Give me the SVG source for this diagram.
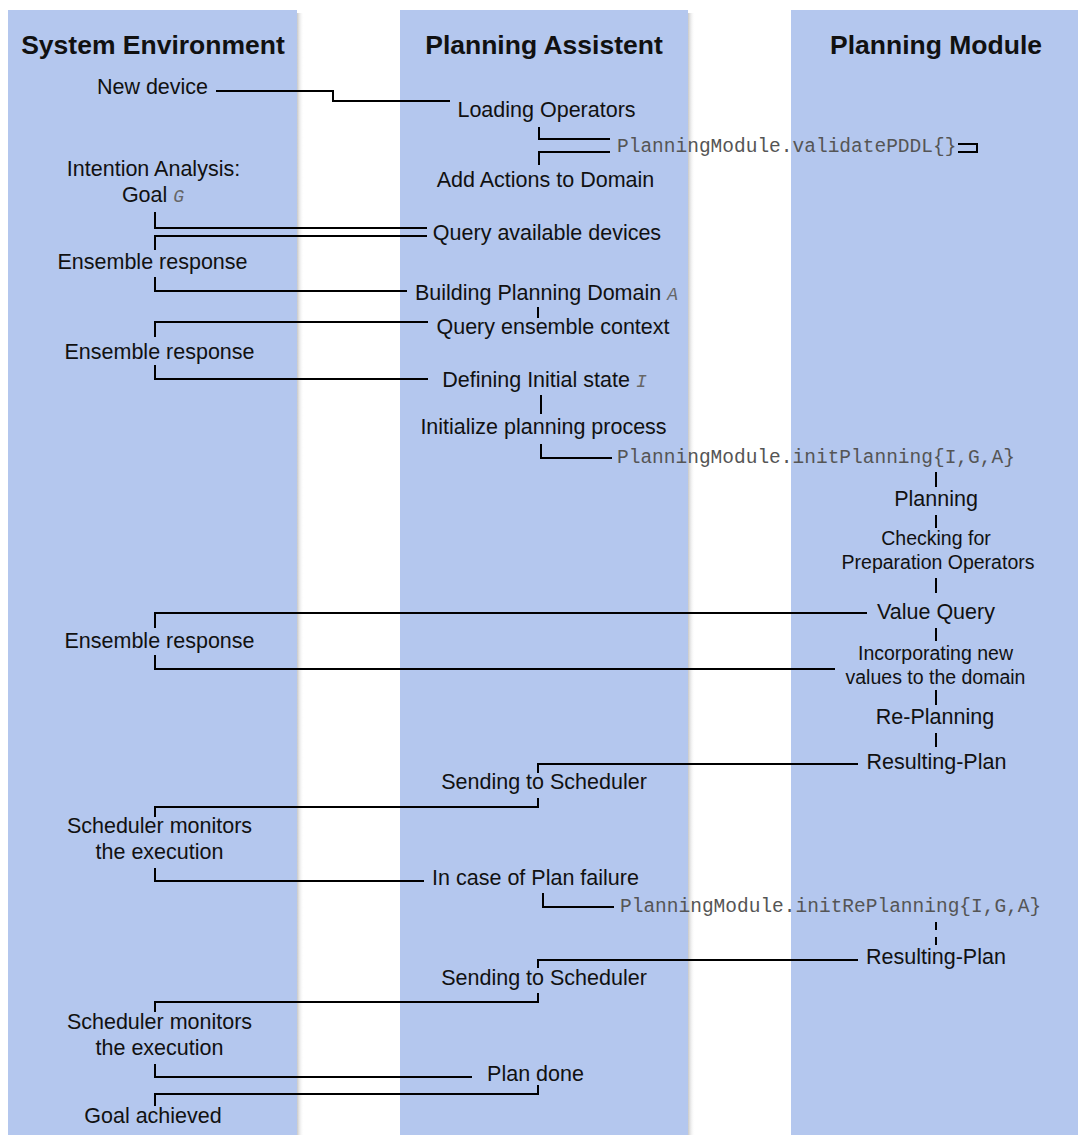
<svg xmlns="http://www.w3.org/2000/svg" width="1078" height="1135" viewBox="0 0 1078 1135">
  <defs>
    <linearGradient id="laneShadow" x1="0" y1="0" x2="1" y2="0">
      <stop offset="0" stop-color="#c8c8c8"/>
      <stop offset="1" stop-color="#ffffff" stop-opacity="0"/>
    </linearGradient>
    <style>
      .lane { fill: #b4c7ee; }
      .title { font-family: "Liberation Sans", Arial, sans-serif; font-weight: bold; font-size: 26.5px; fill: #111; text-anchor: middle; }
      .lbl { font-family: "Liberation Sans", Arial, sans-serif; font-size: 21.5px; fill: #111; text-anchor: middle; }
      .sm { font-family: "Liberation Sans", Arial, sans-serif; font-size: 19.5px; fill: #111; text-anchor: middle; }
      .code { font-family: "Liberation Mono", "Courier New", monospace; font-size: 19.5px; fill: #555; }
      .var { font-family: "Liberation Mono", "Courier New", monospace; font-style: italic; font-size: 18px; fill: #666; }
      .wire { fill: none; stroke: #000; stroke-width: 2; }
      .dash { fill: none; stroke: #000; stroke-width: 2; stroke-dasharray: 8 7; }
    </style>
  </defs>

  <rect width="1078" height="1135" fill="#ffffff"/>

  <!-- swimlanes -->
  <g id="lanes">
    <rect x="297" y="13" width="7" height="1122" fill="url(#laneShadow)"/>
    <rect x="688" y="13" width="7" height="1122" fill="url(#laneShadow)"/>
    <rect class="lane" x="8" y="10" width="289" height="1125"/>
    <rect class="lane" x="400" y="10" width="288" height="1125"/>
    <rect class="lane" x="791" y="10" width="287" height="1125"/>
    <text class="title" x="153" y="54">System Environment</text>
    <text class="title" x="544" y="54">Planning Assistent</text>
    <text class="title" x="936" y="54">Planning Module</text>
  </g>

  <!-- connectors -->
  <g id="connectors">
    <polyline class="wire" points="216,91 333,91 333,101 450,101"/>
    <polyline class="wire" points="539,127 539,139 610,139"/>
    <polyline class="wire" points="610,152 539,152 539,165"/>
    <polyline class="wire" points="958,144 977,144 977,152 958,152"/>
    <polyline class="wire" points="155,212 155,228 427,228"/>
    <polyline class="wire" points="427,236 155,236 155,250"/>
    <polyline class="wire" points="155,277 155,291 407,291"/>
    <line class="wire" x1="538" y1="307" x2="538" y2="318"/>
    <polyline class="wire" points="428,322 155,322 155,337"/>
    <polyline class="wire" points="155,365 155,379 428,379"/>
    <line class="wire" x1="541" y1="395" x2="541" y2="414"/>
    <polyline class="wire" points="541,444 541,458 612,458"/>
    <line class="wire" x1="936" y1="472" x2="936" y2="487"/>
    <line class="wire" x1="936" y1="515" x2="936" y2="528"/>
    <line class="wire" x1="936" y1="578" x2="936" y2="593"/>
    <polyline class="wire" points="867,613 155,613 155,628"/>
    <polyline class="wire" points="155,655 155,669 835,669"/>
    <line class="wire" x1="936" y1="628" x2="936" y2="641"/>
    <line class="wire" x1="936" y1="690" x2="936" y2="705"/>
    <line class="wire" x1="936" y1="733" x2="936" y2="747"/>
    <polyline class="wire" points="858,764 538,764 538,773"/>
    <polyline class="wire" points="538,798 538,807 155,807 155,817"/>
    <polyline class="wire" points="155,868 155,881 424,881"/>
    <polyline class="wire" points="543,893 543,907 614,907"/>
    <line class="dash" x1="936" y1="922" x2="936" y2="950"/>
    <polyline class="wire" points="858,960 538,960 538,968"/>
    <polyline class="wire" points="538,993 538,1002 155,1002 155,1012"/>
    <polyline class="wire" points="155,1064 155,1077 472,1077"/>
    <polyline class="wire" points="538,1085 538,1094 155,1094 155,1106"/>
  </g>

  <!-- System Environment -->
  <g id="new-device"><text class="lbl" x="152.5" y="94">New device</text></g>
  <g id="intention-analysis">
    <text class="lbl" x="153.5" y="176">Intention Analysis:</text>
    <text class="lbl" x="153" y="202">Goal <tspan class="var">G</tspan></text>
  </g>
  <g id="ensemble-response-1"><text class="lbl" x="152.5" y="269">Ensemble response</text></g>
  <g id="ensemble-response-2"><text class="lbl" x="159.5" y="359">Ensemble response</text></g>
  <g id="ensemble-response-3"><text class="lbl" x="159.5" y="648">Ensemble response</text></g>
  <g id="scheduler-monitors-1">
    <text class="lbl" x="159.5" y="833">Scheduler monitors</text>
    <text class="lbl" x="159.5" y="859">the execution</text>
  </g>
  <g id="scheduler-monitors-2">
    <text class="lbl" x="159.5" y="1029">Scheduler monitors</text>
    <text class="lbl" x="159.5" y="1055">the execution</text>
  </g>
  <g id="goal-achieved"><text class="lbl" x="153" y="1123">Goal achieved</text></g>

  <!-- Planning Assistent -->
  <g id="loading-operators"><text class="lbl" x="546.5" y="117">Loading Operators</text></g>
  <g id="validate-pddl"><text class="code" x="617" y="152">PlanningModule.validatePDDL{}</text></g>
  <g id="add-actions"><text class="lbl" x="545.5" y="187">Add Actions to Domain</text></g>
  <g id="query-devices"><text class="lbl" x="547" y="240">Query available devices</text></g>
  <g id="building-domain"><text class="lbl" x="546.5" y="300">Building Planning Domain <tspan class="var">A</tspan></text></g>
  <g id="query-context"><text class="lbl" x="553" y="334">Query ensemble context</text></g>
  <g id="initial-state"><text class="lbl" x="544.5" y="387">Defining Initial state <tspan class="var">I</tspan></text></g>
  <g id="init-process"><text class="lbl" x="543.5" y="434">Initialize planning process</text></g>
  <g id="init-planning"><text class="code" x="617" y="463">PlanningModule.initPlanning{I,G,A}</text></g>
  <g id="sending-1"><text class="lbl" x="544" y="789">Sending to Scheduler</text></g>
  <g id="plan-failure"><text class="lbl" x="535.5" y="885">In case of Plan failure</text></g>
  <g id="init-replanning"><text class="code" x="620" y="912">PlanningModule.initRePlanning{I,G,A}</text></g>
  <g id="sending-2"><text class="lbl" x="544" y="985">Sending to Scheduler</text></g>
  <g id="plan-done"><text class="lbl" x="535.5" y="1081">Plan done</text></g>

  <!-- Planning Module -->
  <g id="planning"><text class="lbl" x="936" y="506">Planning</text></g>
  <g id="checking">
    <text class="sm" x="936" y="545">Checking for</text>
    <text class="sm" x="938" y="569">Preparation Operators</text>
  </g>
  <g id="value-query"><text class="lbl" x="936" y="619">Value Query</text></g>
  <g id="incorporating">
    <text class="sm" x="935.5" y="660">Incorporating new</text>
    <text class="sm" x="935.5" y="684">values to the domain</text>
  </g>
  <g id="re-planning"><text class="lbl" x="935" y="724">Re-Planning</text></g>
  <g id="resulting-plan-1"><text class="lbl" x="936.5" y="769">Resulting-Plan</text></g>
  <g id="resulting-plan-2"><text class="lbl" x="936" y="964">Resulting-Plan</text></g>
</svg>
